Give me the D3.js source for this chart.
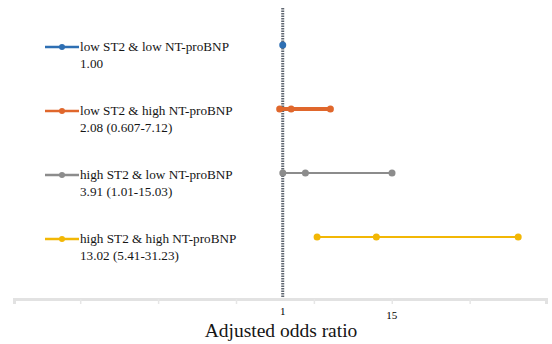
<!DOCTYPE html>
<html>
<head>
<meta charset="utf-8">
<script src="https://cdn.jsdelivr.net/npm/d3@7"></script>
</head>
<body style="margin:0">
<script>
var svgWidth = 552;
var svgHeight = 344;
var serifFont = "'Liberation Serif'";

// groups, odds ratios and 95% CI
var groups = ["low ST2 & low NT-proBNP", "low ST2 & high NT-proBNP", "high ST2 & low NT-proBNP", "high ST2 & high NT-proBNP"];
var oddsRatio = [1.00, 2.08, 3.91, 13.02];
var ciLow = [null, 0.607, 1.01, 5.41];
var ciHigh = [null, 7.12, 15.03, 31.23];
var ciText = ["1.00", "2.08 (0.607-7.12)", "3.91 (1.01-15.03)", "13.02 (5.41-31.23)"];
var colors = ["#2e6fb3", "#e0672c", "#8c8c8c", "#f2b705"];
var lineWidths = [0, 4, 2, 2];

var tickValues = [-25, -15, -5, 5, 15, 25];
var tickLabels = [1, 15];

var svg = d3.select("body")
  .append("svg")
  .attr("width", svgWidth)
  .attr("height", svgHeight);

var x = d3.scaleLinear()
  .domain([-33.5, 34.8])
  .range([14, 546]);

var y = d3.scalePoint()
  .domain(groups)
  .range([45, 237]);

var axisY = 299;

// x axis (tick marks only)
var xAxis = svg.append("g")
  .attr("transform", `translate(0, ${axisY})`)
  .call(d3.axisBottom(x).tickValues(tickValues).tickFormat("").tickSizeOuter(0).tickSize(5));

xAxis.select(".domain")
  .attr("stroke", "#e2e2e2")
  .attr("stroke-width", 3);
xAxis.selectAll(".tick line")
  .attr("stroke", "#e6e6e6")
  .attr("stroke-width", 1.5);

// tick labels (only 1 and 15 shown)
svg.selectAll(".tlabel")
  .data(tickLabels)
  .enter()
  .append("text")
  .attr("class", "tlabel")
  .attr("x", d => x(d))
  .attr("y", (d, i) => i == 0 ? 315 : 319)
  .attr("text-anchor", "middle")
  .style("font-family", serifFont)
  .style("font-size", "11px")
  .text(d => d);

// reference line at OR = 1
svg.append("line")
  .attr("x1", x(1))
  .attr("x2", x(1))
  .attr("y1", 8)
  .attr("y2", axisY - 1)
  .attr("stroke", "#5f6670")
  .attr("stroke-width", 3)
  .attr("stroke-dasharray", "1.5,1");

// CI lines
groups.forEach(function(g, i) {
  if (ciLow[i] == null) return;
  svg.append("line")
    .attr("x1", x(ciLow[i]))
    .attr("x2", x(ciHigh[i]))
    .attr("y1", y(g))
    .attr("y2", y(g))
    .attr("stroke", colors[i])
    .attr("stroke-width", lineWidths[i]);
});

// points: estimate and CI ends
groups.forEach(function(g, i) {
  var vals = ciLow[i] == null ? [oddsRatio[i]] : [ciLow[i], oddsRatio[i], ciHigh[i]];
  svg.selectAll(".pt" + i)
    .data(vals)
    .enter()
    .append("circle")
    .attr("cx", d => x(d))
    .attr("cy", y(g))
    .attr("r", 3.5)
    .attr("fill", colors[i]);
});

// legend
groups.forEach(function(g, i) {
  var ly = y(g) + 2;
  svg.append("line")
    .attr("x1", 45)
    .attr("x2", 79)
    .attr("y1", ly)
    .attr("y2", ly)
    .attr("stroke", colors[i])
    .attr("stroke-width", 2.5);
  svg.append("circle")
    .attr("cx", 62)
    .attr("cy", ly)
    .attr("r", 3)
    .attr("fill", colors[i]);
  svg.append("text")
    .attr("x", 80)
    .attr("y", ly + 4)
    .style("font-family", serifFont)
    .style("font-size", "13.2px")
    .style("fill", "#151515")
    .text(g);
  svg.append("text")
    .attr("x", 80)
    .attr("y", ly + 21)
    .style("font-family", serifFont)
    .style("font-size", "13.2px")
    .style("fill", "#151515")
    .text(ciText[i]);
});

// axis title
svg.append("text")
  .attr("x", 281)
  .attr("y", 337)
  .attr("text-anchor", "middle")
  .style("font-family", serifFont)
  .style("font-size", "19.5px")
  .style("fill", "#151515")
  .text("Adjusted odds ratio");
</script>
</body>
</html>
